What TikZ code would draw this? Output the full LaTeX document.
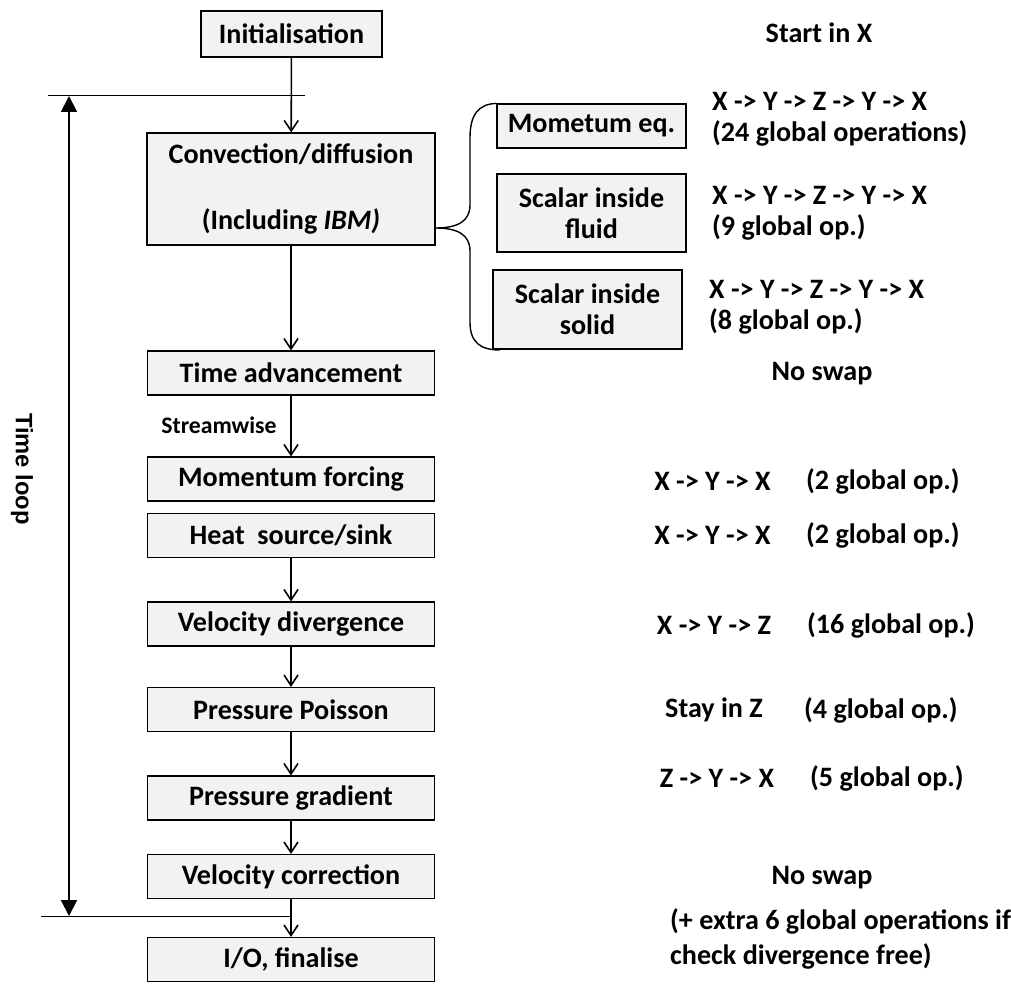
\documentclass[tikz,border=0pt]{standalone}
\usepackage{fontspec}
\setmainfont{Carlito}
\newfontfamily\arialfont{Liberation Sans}
\usetikzlibrary{arrows.meta}

\definecolor{boxfill}{RGB}{242,242,242}

\tikzset{
  stepbox/.style={draw=black, line width=0.7pt, fill=boxfill, align=center,
    minimum width=5.74cm, minimum height=0.88cm, inner sep=2pt},
  subbox/.style={stepbox, minimum width=3.78cm},
  flow/.style={-{Straight Barb[length=6pt,width=8pt,line width=0.9pt]}, line width=0.9pt},
  loopline/.style={{Triangle[length=9pt,width=9pt]}-{Triangle[length=9pt,width=9pt]}, line width=1.1pt},
  swaptext/.style={align=left, anchor=west},
}

\begin{document}
\begin{tikzpicture}[x=0.02cm, y=-0.02cm,
    every node/.style={font=\bfseries\fontsize{16}{17.6}\selectfont}]
    \useasboundingbox (0,0) rectangle (1011,985);

    % pas de calcul, colonne de gauche
    \node[stepbox, minimum width=3.62cm, minimum height=0.92cm] (init) at (291.5,34) {Initialisation};
    \node[stepbox, minimum width=5.76cm, minimum height=2.24cm] (conv) at (291,189)
        {Convection/diffusion\\[20pt](Including \textit{IBM)}};
    \node[stepbox] (tadv) at (291,373) {Time advancement};
    \node[stepbox] (mforce) at (291,479) {Momentum forcing};
    \node[stepbox] (heat) at (291,535.5) {Heat\ \ source/sink};
    \node[stepbox] (vdiv) at (291,624) {Velocity divergence};
    \node[stepbox] (ppois) at (291,709.5) {Pressure Poisson};
    \node[stepbox] (pgrad) at (291,798) {Pressure gradient};
    \node[stepbox] (vcorr) at (291,876.5) {Velocity correction};
    \node[stepbox] (io) at (291,959.5) {I/O, finalise};

    % fleches
    \draw[flow] (init) -- (conv);
    \draw[flow] (conv) -- (tadv);
    \draw[flow] (tadv) -- (mforce);
    \draw[flow] (heat) -- (vdiv);
    \draw[flow] (vdiv) -- (ppois);
    \draw[flow] (ppois) -- (pgrad);
    \draw[flow] (pgrad) -- (vcorr);
    \draw[flow] (vcorr) -- (io);
    \node[font=\bfseries\fontsize{13.5}{16}\selectfont] (stream) at (219,425) {Streamwise};

    % sous-etapes de convection/diffusion
    \node[subbox] (momeq) at (591.5,126) {Mometum eq.};
    \node[subbox, minimum height=1.56cm] (sfluid) at (591.5,213) {Scalar inside\\fluid};
    \node[subbox, minimum height=1.58cm] (ssolid) at (587.5,309.5) {Scalar inside\\solid};

    % accolade
    \coordinate (tip) at (conv.east |- 0,228);
    \coordinate (bend) at (500,350);
    \draw[line width=0.8pt] (momeq.north west) .. controls (478,104) and (470,115) .. (470,138)
        -- (470,205) .. controls (470,221) and (458,228) .. (tip)
        .. controls (458,228) and (470,235) .. (470,251)
        -- (470,322) .. controls (470,342) and (480,350) .. (bend);

    % boucle en temps
    \coordinate (ltop) at (69,96);
    \coordinate (lbot) at (69,916);
    \draw[loopline] (ltop) -- (lbot);
    \draw[line width=0.5pt] (48,95.5) -- (305,95.5);
    \draw[line width=0.5pt] (41,916.5) -- (290,916.5);
    \node[rotate=-90, font=\arialfont\bfseries\fontsize{13.5}{16}\selectfont] (tloop) at (22,469) {Time loop};

    % echanges de donnees, colonne de droite
    \node (start) at (819,33) {Start in X};
    \node[swaptext] (momops) at (706,119.5) {X -> Y -> Z -> Y -> X\\(24 global operations)};
    \node[swaptext] (fluidops) at (706,213.5) {X -> Y -> Z -> Y -> X\\(9 global op.)};
    \node[swaptext] (solidops) at (703,307.5) {X -> Y -> Z -> Y -> X\\(8 global op.)};
    \node (noswapA) at (822,374) {No swap};

    \node (rowA) at (712.5,481) {X -> Y -> X};
    \node[anchor=west] (opsA) at (800,481) {(2 global op.)};
    \node (rowB) at (712.5,535) {X -> Y -> X};
    \node[anchor=west] (opsB) at (800,535) {(2 global op.)};
    \node (rowC) at (714,625) {X -> Y -> Z};
    \node[anchor=west] (opsC) at (801,625) {(16 global op.)};
    \node (rowD) at (714,710) {Stay in Z};
    \node[anchor=west] (opsD) at (798,710) {(4 global op.)};
    \node (rowE) at (717,778) {Z -> Y -> X};
    \node[anchor=west] (opsE) at (804,778) {(5 global op.)};

    \node (noswapB) at (822,878) {No swap};
    \node[swaptext] (extra) at (664,939) {(+ extra 6 global operations if\\[2pt]check divergence free)};

\end{tikzpicture}
\end{document}
